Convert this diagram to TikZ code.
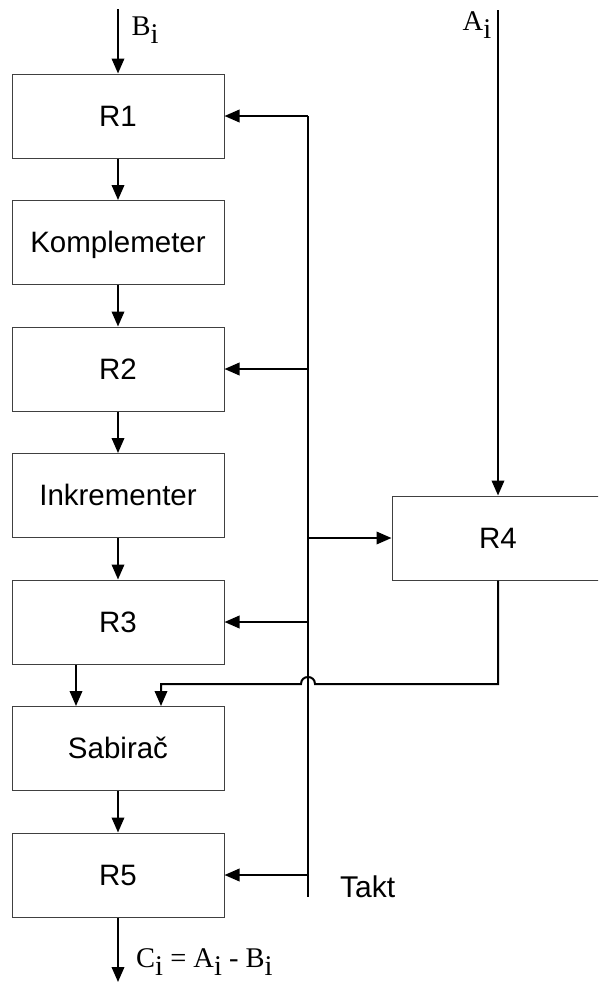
\documentclass[tikz,border=0pt]{standalone}
\usepackage{fontspec}
\setmainfont{Liberation Sans}
\newfontfamily\serifface{Liberation Serif}
\usetikzlibrary{arrows.meta}
% lowered index letter, set at full size
\newcommand\lowi{\raisebox{-8.5pt}{i}}

\begin{document}
\begin{tikzpicture}[x=1pt,y=-1pt,
  blockbox/.style={draw=black!75,line width=1pt,minimum width=212pt,
    minimum height=84pt,inner sep=0pt,text height=20.8pt,text depth=0pt,
    font=\fontsize{29.5}{29.5}\selectfont},
  wire/.style={line width=2pt},
  flow/.style={wire,-{Triangle[length=15pt,width=12.5pt]}},
  siglabel/.style={font=\serifface\fontsize{28.5}{28.5}\selectfont,inner sep=0pt},
  plainlabel/.style={font=\fontsize{30}{30}\selectfont,inner sep=0pt}]
\clip (0,0) rectangle (598,983);

% register chain on the left
\node[blockbox] (R1)  at (118,116)   {R1};
\node[blockbox] (K)   at (118,242.5) {Komplemeter};
\node[blockbox] (R2)  at (118,369)   {R2};
\node[blockbox] (I)   at (118,495.5) {Inkrementer};
\node[blockbox] (R3)  at (118,622)   {R3};
\node[blockbox] (S)   at (118,748.5) {Sabirač};
\node[blockbox] (R5)  at (118,875)   {R5};
% register for the second operand
\node[blockbox] (R4)  at (498,538)   {R4};

% free ends of the inputs, the output and the clock line
\coordinate (bIn)    at (118,9);
\coordinate (aIn)    at (498,10);
\coordinate (cOut)   at (118,982);
\coordinate (busTop) at (308,116);
\coordinate (busEnd) at (308,897);
\coordinate (hopR)   at (315,684);
\coordinate (hopL)   at (301,684);

% data path
\draw[flow] (bIn) -- (R1.north);
\draw[flow] (R1) -- (K);
\draw[flow] (K) -- (R2);
\draw[flow] (R2) -- (I);
\draw[flow] (I) -- (R3);
\draw[flow] ([xshift=-42pt]R3.south) -- ([xshift=-42pt]S.north);
\draw[flow] (S) -- (R5);
\draw[flow] (R5.south) -- (cOut);
\draw[flow] (aIn) -- (R4.north);
\draw[flow] (R4.south) |- (hopR)
  .. controls +(0,-9.33) and +(0,-9.33) .. (hopL)
  -| ([xshift=43pt]S.north);

% clock line
\draw[wire] (busTop) -- (busEnd);
\draw[flow] (busTop) -- (R1.east);
\draw[flow] (R2.east -| busTop) -- (R2.east);
\draw[flow] (R3.east -| busTop) -- (R3.east);
\draw[flow] (R5.east -| busTop) -- (R5.east);
\draw[flow] (R4.west -| busTop) -- (R4.west);

% labels
\node[siglabel,anchor=base west] (lb) at (131.5,35) {B\lowi};
\node[siglabel,anchor=base west] (la) at (462.5,30) {A\lowi};
\node[siglabel,anchor=base west] (lc) at (136,967) {C\lowi{} = A\lowi{} - B\lowi};
\node[plainlabel,anchor=base west] (lt) at (340,897) {Takt};
\end{tikzpicture}
\end{document}
